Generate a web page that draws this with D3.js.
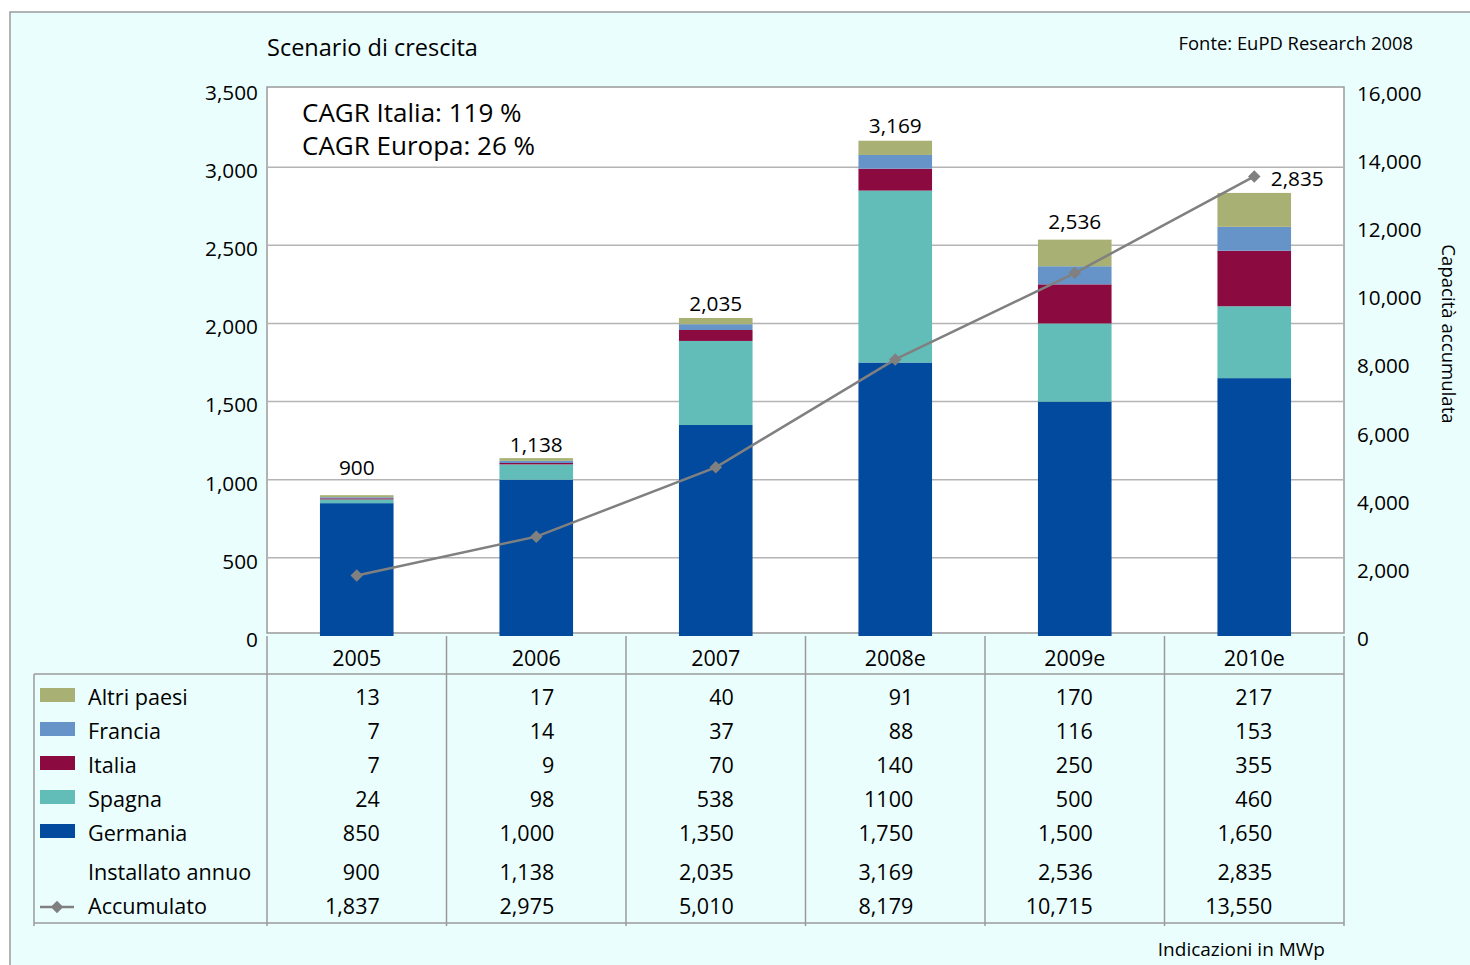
<!DOCTYPE html>
<html>
<head>
<meta charset="utf-8">
<title>Scenario di crescita</title>
<script src="https://cdn.jsdelivr.net/npm/d3@7/dist/d3.min.js"></script>
<style>
body {
  margin: 0;
  background: #fff;
}
text {
  font-family: "Open Sans", "Noto Sans", sans-serif;
  fill: #000;
}
.grid line {
  stroke: #b4b4b4;
  stroke-width: 1.5;
}
.rule {
  stroke: #9a9a9a;
  stroke-width: 1.5;
}
</style>
</head>
<body>
<svg id="chart"></svg>
<script>
var years = ['2005', '2006', '2007', '2008e', '2009e', '2010e'];
var altri = [13, 17, 40, 91, 170, 217];
var francia = [7, 14, 37, 88, 116, 153];
var italia = [7, 9, 70, 140, 250, 355];
var spagna = [24, 98, 538, 1100, 500, 460];
var germania = [850, 1000, 1350, 1750, 1500, 1650];
var installato = [900, 1138, 2035, 3169, 2536, 2835];
var accumulato = [1837, 2975, 5010, 8179, 10715, 13550];

var leftTicks = [0, 500, 1000, 1500, 2000, 2500, 3000, 3500];
var rightTicks = [0, 2000, 4000, 6000, 8000, 10000, 12000, 14000, 16000];

// small nudges for the total labels (last one sits beside the line marker)
var labelDx = [0, 0, 0, 0, 0, 43];
var labelDy = [-20, -6, -7, -8, -11, -7];

var colors = {
  germania: '#014a9d',
  spagna: '#62bdb8',
  italia: '#8b0a40',
  francia: '#6694c8',
  altri: '#a8b073'
};

var W = 1470, H = 965;
var plot = { left: 267, right: 1344, top: 87, bottom: 633 };

var svg = d3.select('#chart')
  .attr('width', W)
  .attr('height', H);

// outer panel
svg.append('rect')
  .attr('x', 10).attr('y', 12)
  .attr('width', W).attr('height', H)
  .attr('fill', '#eafefd')
  .attr('stroke', '#9a9a9a')
  .attr('stroke-width', 1.5);

// plot area
svg.append('rect')
  .attr('x', plot.left).attr('y', plot.top)
  .attr('width', plot.right - plot.left)
  .attr('height', plot.bottom - plot.top)
  .attr('fill', '#fff')
  .attr('stroke', '#9a9a9a')
  .attr('stroke-width', 1.5);

var col = d3.scaleBand()
  .domain(years)
  .range([plot.left, plot.right]);

var x = d3.scaleBand()
  .domain(years)
  .range([plot.left, plot.right])
  .paddingInner(0.59)
  .paddingOuter(0.295);

var y = d3.scaleLinear()
  .domain([0, 3500])
  .range([636, 89]);

var y2 = d3.scaleLinear()
  .domain([0, 16000])
  .range([638, 93]);

var fmt = d3.format(',');

// gridlines
svg.append('g')
  .attr('class', 'grid')
  .selectAll('line')
  .data(leftTicks.filter(function (d) { return d > 0 && d < 3500; }))
  .enter()
  .append('line')
  .attr('x1', plot.left).attr('x2', plot.right)
  .attr('y1', function (d) { return y(d); })
  .attr('y2', function (d) { return y(d); });

// left axis
var yAxis = d3.axisLeft(y)
  .tickValues(leftTicks)
  .tickFormat(fmt)
  .tickSize(0)
  .tickPadding(9);

var gy = svg.append('g')
  .attr('transform', 'translate(' + plot.left + ',0)')
  .call(yAxis);
gy.select('.domain').remove();
gy.selectAll('text')
  .attr('dy', '0.4em')
  .attr('transform', 'translate(0,2)')
  .style('font-size', '20.8px');

// right axis
var yAxis2 = d3.axisRight(y2)
  .tickValues(rightTicks)
  .tickFormat(fmt)
  .tickSize(0)
  .tickPadding(13);

var gy2 = svg.append('g')
  .attr('transform', 'translate(' + plot.right + ',0)')
  .call(yAxis2);
gy2.select('.domain').remove();
gy2.selectAll('text')
  .attr('dy', '0.36em')
  .style('font-size', '20.7px');

svg.append('text')
  .attr('transform', 'translate(1442,334) rotate(90)')
  .attr('text-anchor', 'middle')
  .style('font-size', '18.6px')
  .text('Capacità accumulata');

// stacked bars
var table = years.map(function (yr, i) {
  return {
    year: yr,
    germania: germania[i],
    spagna: spagna[i],
    italia: italia[i],
    francia: francia[i],
    altri: altri[i]
  };
});

var keys = ['germania', 'spagna', 'italia', 'francia', 'altri'];
var series = d3.stack().keys(keys)(table);

svg.append('g')
  .selectAll('g')
  .data(series)
  .enter()
  .append('g')
  .attr('fill', function (d) { return colors[d.key]; })
  .selectAll('rect')
  .data(function (d) { return d; })
  .enter()
  .append('rect')
  .attr('x', function (d) { return x(d.data.year); })
  .attr('y', function (d) { return y(d[1]); })
  .attr('width', x.bandwidth())
  .attr('height', function (d) { return y(d[0]) - y(d[1]); });

// total labels
svg.append('g')
  .selectAll('text')
  .data(installato)
  .enter()
  .append('text')
  .attr('x', function (d, i) { return x(years[i]) + x.bandwidth() / 2 + labelDx[i]; })
  .attr('y', function (d, i) { return y(d) + labelDy[i]; })
  .attr('text-anchor', 'middle')
  .style('font-size', '20.8px')
  .text(fmt);

// accumulated line
var line = d3.line()
  .x(function (d, i) { return col(years[i]) + col.bandwidth() / 2; })
  .y(function (d) { return y2(d); });

svg.append('path')
  .datum(accumulato)
  .attr('d', line)
  .attr('fill', 'none')
  .attr('stroke', '#808080')
  .attr('stroke-width', 2.5);

var diamond = d3.symbol().type(d3.symbolDiamond2).size(100);

svg.append('g')
  .selectAll('path')
  .data(accumulato)
  .enter()
  .append('path')
  .attr('d', diamond)
  .attr('transform', function (d, i) {
    return 'translate(' + (col(years[i]) + col.bandwidth() / 2) + ',' + y2(d) + ')';
  })
  .attr('fill', '#808080');

// titles
svg.append('text')
  .attr('x', 267).attr('y', 56)
  .style('font-size', '23.5px')
  .text('Scenario di crescita');

svg.append('text')
  .attr('x', 1413).attr('y', 50)
  .attr('text-anchor', 'end')
  .style('font-size', '18.4px')
  .text('Fonte: EuPD Research 2008');

svg.append('text')
  .attr('x', 302).attr('y', 122)
  .style('font-size', '26px')
  .text('CAGR Italia: 119 %');

svg.append('text')
  .attr('x', 302).attr('y', 155)
  .style('font-size', '26px')
  .text('CAGR Europa: 26 %');

// data table
var rows = [
  { label: 'Altri paesi', values: altri, color: colors.altri, y: 705 },
  { label: 'Francia', values: francia, color: colors.francia, y: 739 },
  { label: 'Italia', values: italia, color: colors.italia, y: 773 },
  { label: 'Spagna', values: spagna, color: colors.spagna, y: 807, plain: true },
  { label: 'Germania', values: germania, color: colors.germania, y: 841 },
  { label: 'Installato annuo', values: installato, color: null, y: 880 },
  { label: 'Accumulato', values: accumulato, color: null, y: 914, line: true }
];

var tbl = svg.append('g');

// table rules
tbl.append('line').attr('class', 'rule')
  .attr('x1', 34).attr('x2', plot.right)
  .attr('y1', 674).attr('y2', 674);
tbl.append('line').attr('class', 'rule')
  .attr('x1', 34).attr('x2', plot.right)
  .attr('y1', 923).attr('y2', 923);
tbl.append('line').attr('class', 'rule')
  .attr('x1', 34).attr('x2', 34)
  .attr('y1', 674).attr('y2', 926);

tbl.selectAll('line.col')
  .data(years.concat(['end']))
  .enter()
  .append('line')
  .attr('class', 'rule col')
  .attr('x1', function (d, i) { return plot.left + i * col.step(); })
  .attr('x2', function (d, i) { return plot.left + i * col.step(); })
  .attr('y1', 636)
  .attr('y2', 926);

// year headers
tbl.selectAll('text.year')
  .data(years)
  .enter()
  .append('text')
  .attr('class', 'year')
  .attr('x', function (d) { return col(d) + col.bandwidth() / 2; })
  .attr('y', 666)
  .attr('text-anchor', 'middle')
  .style('font-size', '21.5px')
  .text(function (d) { return d; });

var rowG = tbl.selectAll('g.row')
  .data(rows)
  .enter()
  .append('g')
  .attr('class', 'row');

rowG.filter(function (d) { return d.color; })
  .append('rect')
  .attr('x', 40)
  .attr('y', function (d) { return d.y - 17; })
  .attr('width', 35)
  .attr('height', 14)
  .attr('fill', function (d) { return d.color; });

rowG.filter(function (d) { return d.line; })
  .append('line')
  .attr('x1', 40).attr('x2', 74)
  .attr('y1', function (d) { return d.y - 7; })
  .attr('y2', function (d) { return d.y - 7; })
  .attr('stroke', '#808080')
  .attr('stroke-width', 2.5);

rowG.filter(function (d) { return d.line; })
  .append('path')
  .attr('d', diamond)
  .attr('transform', function (d) { return 'translate(57,' + (d.y - 7) + ')'; })
  .attr('fill', '#808080');

rowG.append('text')
  .attr('x', 88)
  .attr('y', function (d) { return d.y; })
  .style('font-size', '21.6px')
  .text(function (d) { return d.label; });

rowG.each(function (r) {
  d3.select(this).selectAll('text.val')
    .data(r.values)
    .enter()
    .append('text')
    .attr('class', 'val')
    .attr('x', function (d, i) { return col(years[i]) + col.bandwidth() / 2 + (i === 0 ? 23 : 18); })
    .attr('y', r.y)
    .attr('text-anchor', 'end')
    .style('font-size', '21.5px')
    .text(function (d) { return r.plain ? d3.format('d')(d) : fmt(d); });
});

svg.append('text')
  .attr('x', 1325).attr('y', 956)
  .attr('text-anchor', 'end')
  .style('font-size', '19px')
  .text('Indicazioni in MWp');
</script>
</body>
</html>
